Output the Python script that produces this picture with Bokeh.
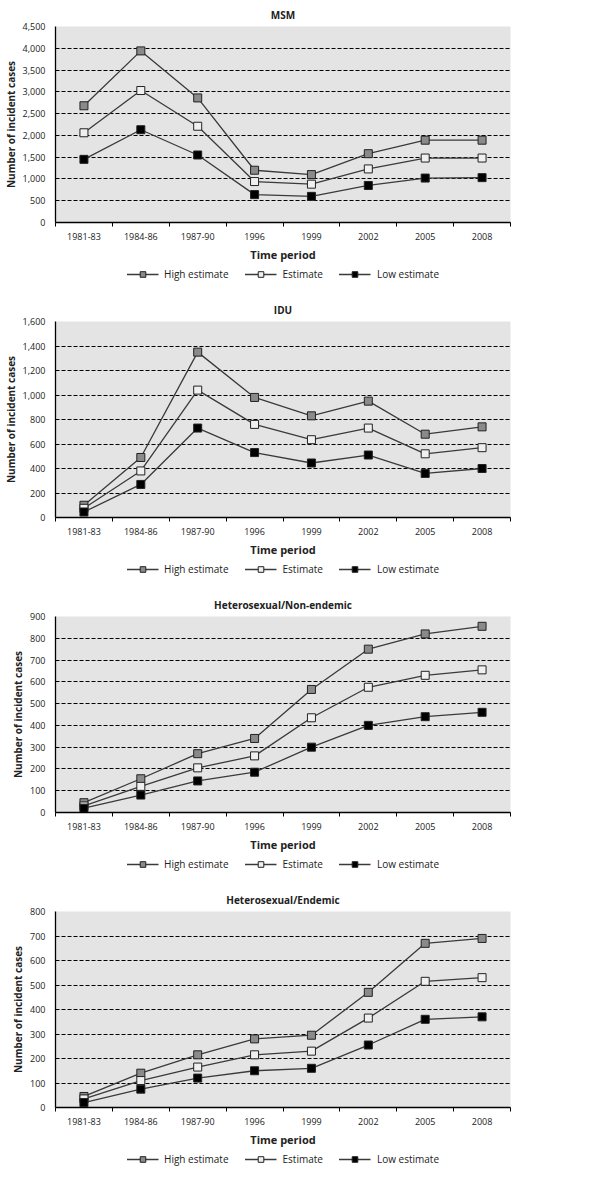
import numpy as np
from bokeh.plotting import figure
from bokeh.layouts import column
from bokeh.models import Range1d, FixedTicker, NumeralTickFormatter, Legend, LegendItem
from bokeh.embed import file_html
from bokeh.resources import INLINE

periods = ["1981-83", "1984-86", "1987-90", "1996", "1999", "2002", "2005", "2008"]

msm_high = [2680, 3940, 2860, 1200, 1100, 1580, 1890, 1890]
msm_est = [2060, 3030, 2210, 940, 880, 1230, 1480, 1480]
msm_low = [1450, 2130, 1550, 640, 600, 850, 1020, 1030]

idu_high = [100, 490, 1350, 980, 830, 950, 680, 740]
idu_est = [75, 380, 1040, 760, 635, 730, 520, 570]
idu_low = [45, 270, 730, 530, 445, 510, 360, 400]

hne_high = [45, 155, 270, 340, 565, 750, 820, 855]
hne_est = [30, 120, 205, 260, 435, 575, 630, 655]
hne_low = [20, 80, 145, 185, 300, 400, 440, 460]

he_high = [45, 140, 215, 280, 295, 470, 670, 690]
he_est = [35, 110, 165, 215, 230, 365, 515, 530]
he_low = [20, 75, 120, 150, 160, 255, 360, 370]

titles = ["MSM", "IDU", "Heterosexual/Non-endemic", "Heterosexual/Endemic"]
y_max = [4500, 1600, 900, 800]
y_step = [500, 200, 100, 100]
series_names = ["High estimate", "Estimate", "Low estimate"]

FONT = "Open Sans"
fills = ["#8a8a8a", "#f0f0f0", "#000000"]
LINE = "#3a3a3a"
W = 581
BL, BR = 44, 71


def add_series(p, x, series, visible=True):
    rends = []
    for vals, fc in zip(series, fills):
        ln = p.line(x, vals, line_color=LINE, line_width=1.3, visible=visible)
        sc = p.scatter(x, vals, marker="square", size=8, fill_color=fc,
                       line_color="#222222", line_width=1, visible=visible)
        rends.append((ln, sc))
    return rends


def make(title, series, ymax, step, h, hl):
    n = len(periods)
    x = np.arange(n) + 0.5
    p = figure(width=W, height=h, output_backend="svg", toolbar_location=None,
               x_range=Range1d(0, n), y_range=Range1d(0, ymax),
               min_border_left=BL, min_border_right=BR, min_border_top=2,
               min_border_bottom=0, title=title)
    p.title.align = "center"
    p.title.text_font = FONT
    p.title.text_font_size = "10px"
    p.title.text_font_style = "bold"
    p.title.text_color = "#222222"
    p.background_fill_color = "#e4e4e4"
    p.border_fill_color = "white"
    p.outline_line_color = None

    p.xgrid.visible = False
    p.ygrid.grid_line_color = "black"
    p.ygrid.grid_line_dash = "4 2"
    p.ygrid.grid_line_width = 1

    xa = p.xaxis[0]
    xa.ticker = FixedTicker(ticks=list(x), minor_ticks=list(range(n + 1)))
    xa.major_label_overrides = {float(xi): lab for xi, lab in zip(x, periods)}
    xa.major_tick_line_color = None
    xa.minor_tick_line_color = "black"
    xa.minor_tick_out = 4
    xa.minor_tick_in = 0
    xa.axis_line_color = "black"
    xa.axis_line_width = 1.3
    xa.major_label_text_font = FONT
    xa.major_label_text_font_size = "9px"
    xa.major_label_text_color = "#222222"
    xa.major_label_standoff = 4
    xa.axis_label = "Time period"
    xa.axis_label_text_font = FONT
    xa.axis_label_text_font_size = "11px"
    xa.axis_label_text_font_style = "bold"
    xa.axis_label_text_color = "#222222"
    xa.axis_label_standoff = 4

    ya = p.yaxis[0]
    ya.ticker = FixedTicker(ticks=list(range(0, ymax + 1, step)))
    ya.formatter = NumeralTickFormatter(format="0,0")
    ya.major_tick_line_color = None
    ya.minor_tick_line_color = None
    ya.axis_line_color = "black"
    ya.axis_line_width = 1.3
    ya.major_label_text_font = FONT
    ya.major_label_text_font_size = "9px"
    ya.major_label_text_color = "#222222"
    ya.major_label_standoff = 4
    ya.axis_label = "Number of incident cases"
    ya.axis_label_text_font = FONT
    ya.axis_label_text_font_size = "10px"
    ya.axis_label_text_font_style = "bold"
    ya.axis_label_text_color = "#222222"
    ya.axis_label_standoff = 2

    add_series(p, x, series)

    # legend row below the chart
    lf = figure(width=W, height=hl, output_backend="svg", toolbar_location=None,
                x_axis_type=None, y_axis_type=None,
                x_range=Range1d(0, n), y_range=Range1d(0, ymax),
                min_border_left=BL, min_border_right=BR, min_border_top=0,
                min_border_bottom=0)
    lf.outline_line_color = None
    lf.background_fill_color = "white"
    lf.border_fill_color = "white"
    rends = add_series(lf, x, series, visible=False)
    items = [LegendItem(label=nm, renderers=[ln, sc]) for nm, (ln, sc) in zip(series_names, rends)]
    leg = Legend(items=items, orientation="horizontal", location="top_center",
                 border_line_color=None, background_fill_alpha=0,
                 inactive_fill_alpha=0,
                 label_text_font=FONT, label_text_font_size="10px",
                 label_text_color="#222222",
                 glyph_width=32, glyph_height=14, label_height=14,
                 label_standoff=6, spacing=16, padding=0, margin=3)
    lf.add_layout(leg)
    return [p, lf]


data = [
    (msm_high, msm_est, msm_low),
    (idu_high, idu_est, idu_low),
    (hne_high, hne_est, hne_low),
    (he_high, he_est, he_low),
]

figs = []
for t, s, m, st in zip(titles, data, y_max, y_step):
    figs.extend(make(t, s, m, st, 264, 31))
layout = column(*figs, spacing=0)

open("out.html", "w").write(file_html(layout, INLINE))
